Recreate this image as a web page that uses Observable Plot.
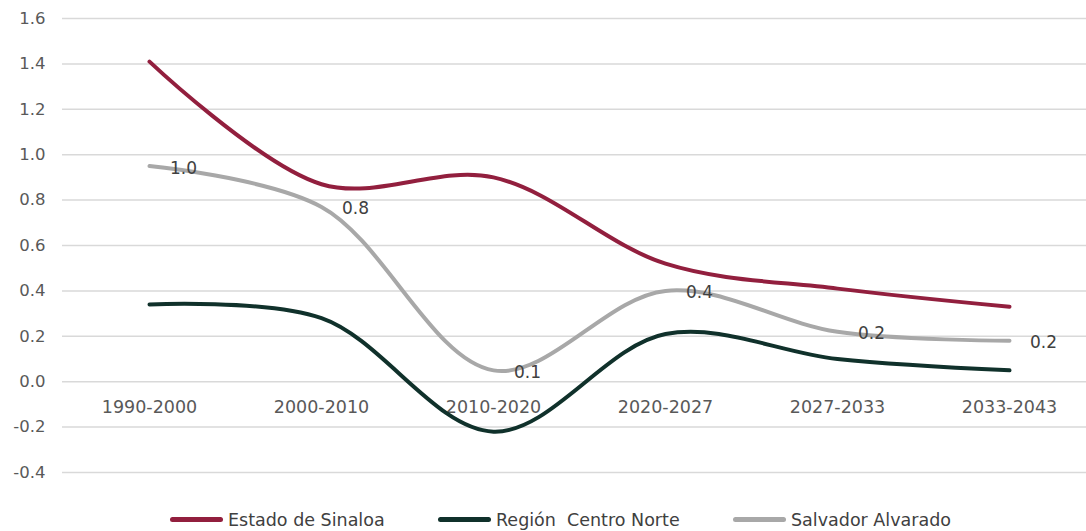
<!DOCTYPE html>
<html>
<head>
<meta charset="utf-8">
<script src="https://cdn.jsdelivr.net/npm/d3@7"></script>
<script src="https://cdn.jsdelivr.net/npm/@observablehq/plot@0.6"></script>
<style>
  html, body { margin: 0; padding: 0; background: #fff; }
  #chart { width: 1086px; }
  .legend { position: relative; height: 31px; margin-top: 4px;
    font-family: "DejaVu Sans", sans-serif; font-size: 17.5px; color: #404040; }
  .item { display: flex; align-items: center; position: absolute; top: 0; height: 31px; }
  .sw { display: inline-block; width: 53px; height: 5px; border-radius: 3px; margin-right: 5px; }
</style>
</head>
<body>
<div id="chart"></div>
<script>
const periods = ["1990-2000", "2000-2010", "2010-2020", "2020-2027", "2027-2033", "2033-2043"];
const seriesNames = ["Estado de Sinaloa", "Región  Centro Norte", "Salvador Alvarado"];
const sinaloa = [1.41, 0.87, 0.90, 0.52, 0.41, 0.33];
const centroNorte = [0.34, 0.28, -0.22, 0.21, 0.10, 0.05];
const salvador = [0.95, 0.77, 0.05, 0.40, 0.22, 0.18];
const salvadorLabels = ["1.0", "0.8", "0.1", "0.4", "0.2", "0.2"];
const yTicks = [-0.4, -0.2, 0.0, 0.2, 0.4, 0.6, 0.8, 1.0, 1.2, 1.4, 1.6];
const colors = ["#921f3e", "#10312b", "#a8a8a8"];

const allSeries = [sinaloa, centroNorte, salvador];
const rows = allSeries.flatMap((vals, i) => periods.map((p, j) => ({series: seriesNames[i], period: p, value: vals[j]})));
const labelRows = periods.map((p, j) => ({period: p, value: salvador[j], label: salvadorLabels[j]}));

const font = "DejaVu Sans, sans-serif";
const plot = Plot.plot({
  width: 1086,
  height: 500,
  marginTop: 18,
  marginBottom: 28,
  marginLeft: 62,
  marginRight: 0,
  style: {fontFamily: font, background: "#fff"},
  x: {type: "point", domain: periods, range: [148, 1010], padding: 0, axis: null},
  y: {domain: [-0.4, 1.6], axis: null},
  color: {domain: seriesNames, range: colors},
  marks: [
    Plot.ruleY(yTicks, {stroke: "#d9d9d9", strokeWidth: 1.5}),
    Plot.text(yTicks, {y: d => d, text: d => d.toFixed(1), frameAnchor: "left", textAnchor: "end", dx: -17, fontSize: 16.5, fill: "#595959"}),
    Plot.text(periods, {x: d => d, y: () => 0, text: d => d, dy: 26, fontSize: 17.5, fill: "#595959"}),
    Plot.line(rows, {x: "period", y: "value", z: "series", stroke: "series", strokeWidth: 4, curve: "catmull-rom", strokeLinecap: "round"}),
    Plot.text(labelRows, {x: "period", y: "value", text: "label", dx: 34, dy: 2, fontSize: 17, fill: "#404040"})
  ]
});
document.getElementById("chart").appendChild(plot);

const legend = document.createElement("div");
legend.className = "legend";
const lefts = [170, 438, 733];
seriesNames.forEach((n, i) => {
  const it = document.createElement("div");
  it.className = "item";
  it.style.left = lefts[i] + "px";
  const sw = document.createElement("span");
  sw.className = "sw";
  sw.style.background = colors[i];
  it.appendChild(sw);
  it.appendChild(document.createTextNode(n.replace(/ /g, "\u00a0")));
  legend.appendChild(it);
});
document.getElementById("chart").appendChild(legend);
</script>
</body>
</html>
